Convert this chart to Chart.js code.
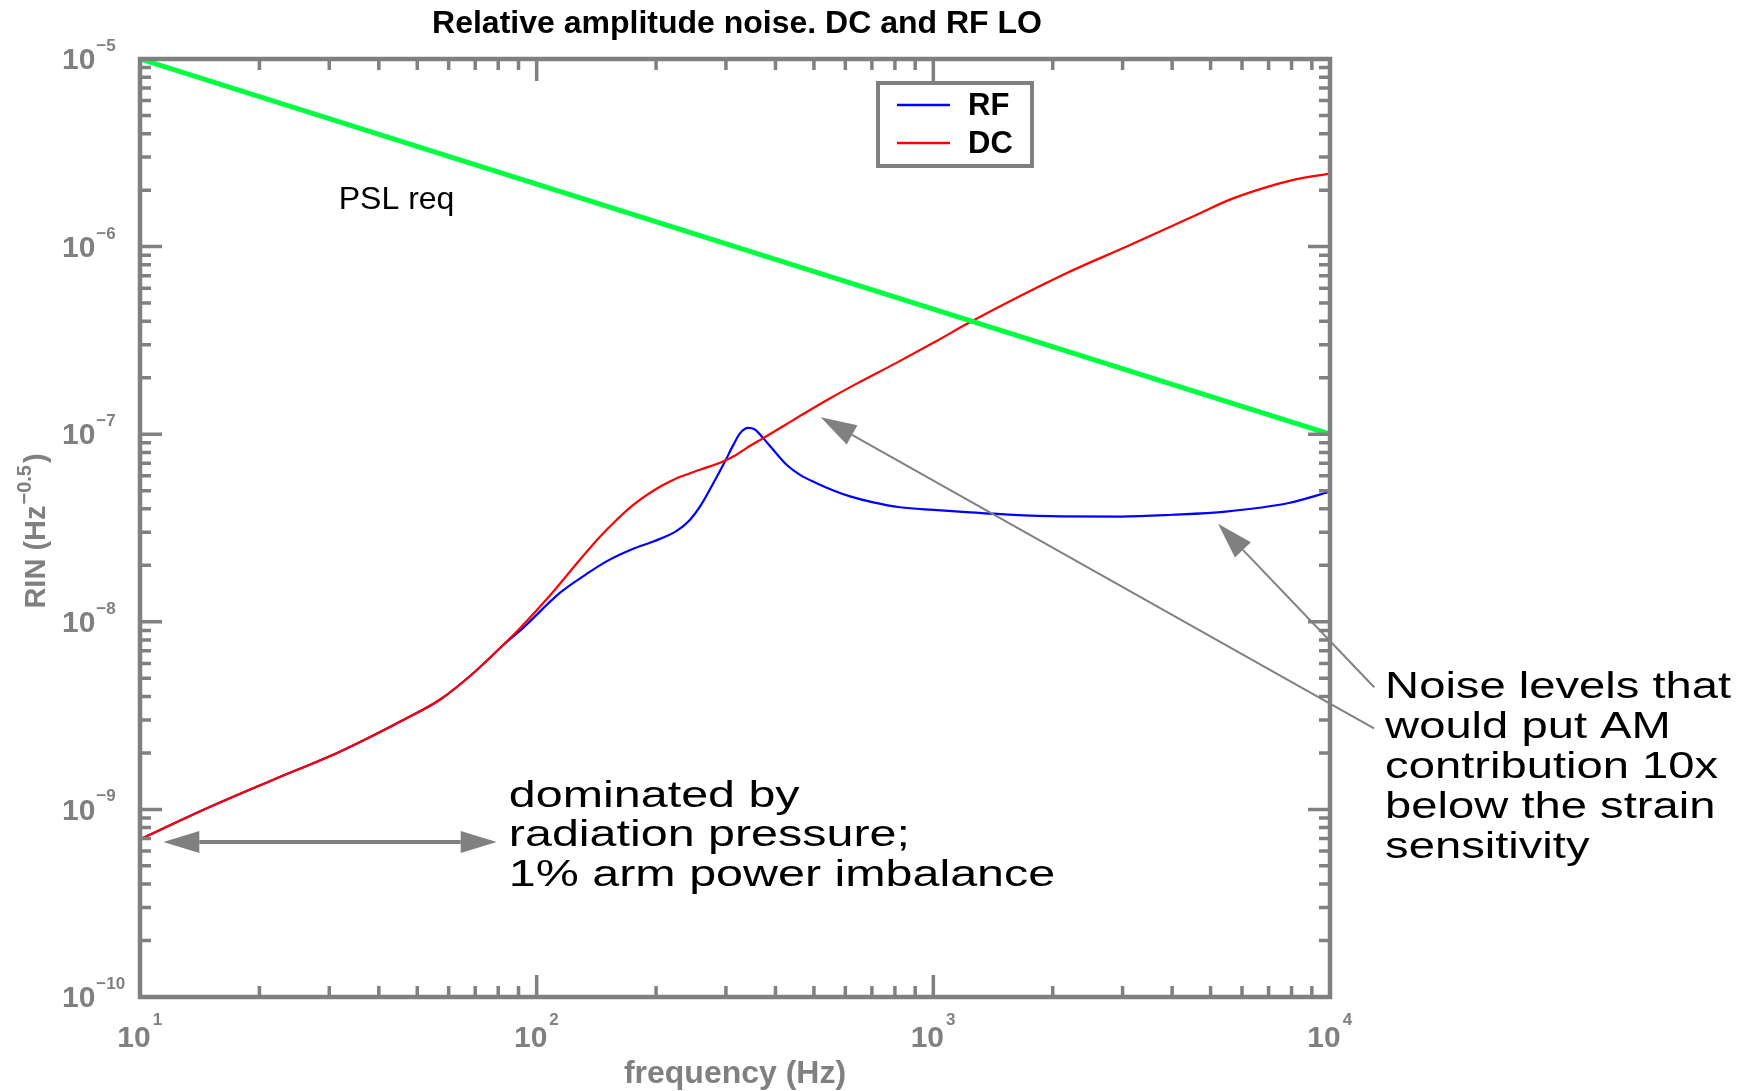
<!DOCTYPE html>
<html>
<head>
<meta charset="utf-8">
<script src="https://cdn.jsdelivr.net/npm/chart.js@4.4.1/dist/chart.umd.min.js"></script>
<style>
  html, body { margin: 0; padding: 0; background: #ffffff; }
  canvas { display: block; }
</style>
</head>
<body>
<canvas id="c" width="1758" height="1091"></canvas>
<script>
// ---------------- data ----------------
const titleText = 'Relative amplitude noise. DC and RF LO';
const xTitleText = 'frequency (Hz)';
const yTitleMain = 'RIN (Hz';
const yTitleSup = '\u22120.5';
const yTitleEnd = ')';

const xTickValues = [10, 100, 1000, 10000];
const xTickLabels = ['10', '10', '10', '10'];
const xTickExponents = ['1', '2', '3', '4'];
const yTickValues = [1e-10, 1e-9, 1e-8, 1e-7, 1e-6, 1e-5];
const yTickLabels = ['10', '10', '10', '10', '10', '10'];
const yTickExponents = ['\u221210', '\u22129', '\u22128', '\u22127', '\u22126', '\u22125'];
const minorMultipliers = [2, 3, 4, 5, 6, 7, 8, 9];

const pslFreq = [10, 100, 1000, 10000];
const pslRin  = [1e-5, 2.15e-6, 4.64e-7, 1e-7];

const dcFreq = [10, 14.7, 21.7, 31.9, 47, 57, 69.2, 84, 90, 108, 128.5, 144.4, 159, 175.2, 205, 225.4, 258, 295, 313.2, 338, 372.4, 420, 461, 548, 641, 807, 1000, 1236, 2125, 3133, 4613, 5595, 6795, 8237, 10000];
const dcRin  = [6.92e-10, 1.01e-9, 1.44e-9, 2.03e-9, 3.06e-9, 3.84e-9, 5.32e-9, 7.84e-9, 9.06e-9, 1.38e-8, 2.14e-8, 2.84e-8, 3.49e-8, 4.20e-8, 5.26e-8, 5.83e-8, 6.46e-8, 7.15e-8, 7.60e-8, 8.43e-8, 9.53e-8, 1.11e-7, 1.25e-7, 1.55e-7, 1.86e-7, 2.40e-7, 3.07e-7, 3.95e-7, 7.08e-7, 1.02e-6, 1.48e-6, 1.78e-6, 2.05e-6, 2.29e-6, 2.45e-6];

const rfFreq = [10, 14.7, 21.7, 31.9, 47, 57, 69.2, 84, 92, 114.6, 133.7, 150, 175.2, 196.9, 225.4, 243.3, 258, 278.8, 298.3, 313.2, 325.5, 341.5, 354.8, 372.4, 394.8, 426.6, 461.3, 508.1, 559.8, 616.6, 705.6, 823.6, 1000, 1548, 2100, 2979, 4000, 5460, 7870, 10000];
const rfRin  = [6.92e-10, 1.01e-9, 1.44e-9, 2.03e-9, 3.06e-9, 3.84e-9, 5.32e-9, 7.8e-9, 9.2e-9, 1.43e-8, 1.80e-8, 2.10e-8, 2.45e-8, 2.68e-8, 3.05e-8, 3.49e-8, 4.11e-8, 5.48e-8, 7.15e-8, 8.77e-8, 1.01e-7, 1.08e-7, 1.06e-7, 9.53e-8, 8.26e-8, 6.87e-8, 6.07e-8, 5.48e-8, 5.01e-8, 4.66e-8, 4.33e-8, 4.08e-8, 3.95e-8, 3.73e-8, 3.65e-8, 3.64e-8, 3.72e-8, 3.87e-8, 4.30e-8, 4.94e-8];

const legendEntries = ['RF', 'DC'];
const pslText = 'PSL req';
const leftNote = ['dominated by', 'radiation pressure;', '1% arm power imbalance'];
const rightNote = ['Noise levels that', 'would put AM', 'contribution 10x', 'below the strain', 'sensitivity'];

// ---------------- styling ----------------
const GRAY = '#808080';
const FONT = "'Liberation Sans', Arial, Helvetica, sans-serif";
Chart.defaults.font.family = FONT;
const TICK_FONT = 'bold 30px ' + FONT;
const EXP_FONT = 'bold 17px ' + FONT;

function pts(xs, ys) { return xs.map((x, i) => ({ x: x, y: ys[i] })); }

function arrowHead(ctx, x1, y1, x2, y2, len, hw) {
  const a = Math.atan2(y2 - y1, x2 - x1);
  const bx = x2 - len * Math.cos(a), by = y2 - len * Math.sin(a);
  ctx.beginPath();
  ctx.moveTo(x2, y2);
  ctx.lineTo(bx + hw * Math.sin(a), by - hw * Math.cos(a));
  ctx.lineTo(bx - hw * Math.sin(a), by + hw * Math.cos(a));
  ctx.closePath();
  ctx.fill();
  return [bx, by];
}
function stretched(ctx, txt, x, y, sx) {
  ctx.save(); ctx.translate(x, y); ctx.scale(sx, 1); ctx.fillText(txt, 0, 0); ctx.restore();
}

const decorPlugin = {
  id: 'decor',
  afterDatasetsDraw(chart) {
    const ctx = chart.ctx, a = chart.chartArea;
    const xs = chart.scales.x, ys = chart.scales.y;
    ctx.save();
    ctx.strokeStyle = GRAY; ctx.lineWidth = 3.5; ctx.lineCap = 'butt';
    for (let e = 1; e <= 4; e++) {
      [1].concat(minorMultipliers).forEach(m => {
        const v = m * Math.pow(10, e);
        if (v > xs.max * 1.0001) return;
        const px = xs.getPixelForValue(v);
        const len = m === 1 ? 22 : 11;
        ctx.beginPath();
        ctx.moveTo(px, a.bottom); ctx.lineTo(px, a.bottom - len);
        ctx.moveTo(px, a.top); ctx.lineTo(px, a.top + len);
        ctx.stroke();
      });
    }
    for (let e = -10; e <= -5; e++) {
      [1].concat(minorMultipliers).forEach(m => {
        const v = m * Math.pow(10, e);
        if (v > ys.max * 1.0001) return;
        const py = ys.getPixelForValue(v);
        const len = m === 1 ? 22 : 11;
        ctx.beginPath();
        ctx.moveTo(a.left, py); ctx.lineTo(a.left + len, py);
        ctx.moveTo(a.right, py); ctx.lineTo(a.right - len, py);
        ctx.stroke();
      });
    }
    ctx.lineWidth = 4.5;
    ctx.strokeRect(a.left, a.top, a.right - a.left, a.bottom - a.top);
    ctx.restore();
  },
  afterDraw(chart) {
    const ctx = chart.ctx, a = chart.chartArea;
    const xs = chart.scales.x, ys = chart.scales.y;
    const X = v => xs.getPixelForValue(v), Y = v => ys.getPixelForValue(v);
    ctx.save();

    // tick label exponents
    ctx.fillStyle = GRAY;
    ctx.textAlign = 'left'; ctx.textBaseline = 'alphabetic';
    ctx.font = TICK_FONT;
    const baseW = ctx.measureText('10').width;
    ctx.font = EXP_FONT;
    xTickValues.forEach((v, i) => {
      ctx.fillText(xTickExponents[i], X(v) - 6 + baseW / 2 + 2, a.bottom + 28);
    });
    yTickValues.forEach((v, i) => {
      ctx.fillText(yTickExponents[i], 62 + baseW + 1, Y(v) - 8);
    });

    // title
    ctx.fillStyle = '#000000';
    ctx.font = 'bold 32px ' + FONT;
    ctx.textAlign = 'center'; ctx.textBaseline = 'alphabetic';
    ctx.fillText(titleText, 737, 33);

    // x axis title
    ctx.fillStyle = GRAY;
    ctx.font = 'bold 32px ' + FONT;
    ctx.fillText(xTitleText, (a.left + a.right) / 2, 1083);

    // y axis title (rotated, with superscript)
    ctx.save();
    ctx.translate(45, (a.top + a.bottom) / 2 + 3);
    ctx.rotate(-Math.PI / 2);
    ctx.textAlign = 'left';
    const mainF = 'bold 29px ' + FONT, supF = 'bold 20px ' + FONT;
    ctx.font = mainF; const w1 = ctx.measureText(yTitleMain).width; const w3 = ctx.measureText(yTitleEnd).width;
    ctx.font = supF; const w2 = ctx.measureText(yTitleSup).width;
    let sx = -(w1 + w2 + w3 + 3) / 2;
    ctx.font = mainF; ctx.fillText(yTitleMain, sx, 0); sx += w1;
    ctx.font = supF; ctx.fillText(yTitleSup, sx + 1, -14); sx += w2 + 3;
    ctx.font = mainF; ctx.fillText(yTitleEnd, sx, 0);
    ctx.restore();

    // legend box
    const lx = 878, ly = 83, lw = 154, lh = 83;
    ctx.fillStyle = '#ffffff';
    ctx.fillRect(lx, ly, lw, lh);
    ctx.strokeStyle = GRAY; ctx.lineWidth = 4;
    ctx.strokeRect(lx, ly, lw, lh);
    ctx.font = 'bold 31px ' + FONT;
    ctx.textAlign = 'left'; ctx.textBaseline = 'middle';
    legendEntries.forEach((lab, i) => {
      const ds = chart.data.datasets.find(d => d.label === lab);
      const yy = ly + 22 + i * 38;
      ctx.strokeStyle = ds.borderColor; ctx.lineWidth = 2.5;
      ctx.beginPath(); ctx.moveTo(lx + 19, yy); ctx.lineTo(lx + 72, yy); ctx.stroke();
      ctx.fillStyle = '#000000';
      ctx.fillText(lab, lx + 90, yy + 1);
    });

    // PSL req label
    ctx.textBaseline = 'alphabetic';
    ctx.fillStyle = '#000000';
    ctx.font = '32px ' + FONT;
    ctx.fillText(pslText, X(31.7), Y(1.59e-6));

    // notes
    ctx.font = '36px ' + FONT;
    leftNote.forEach((t, i) => stretched(ctx, t, X(85.1), Y(1.03e-9) + i * 39.5, 1.345));
    rightNote.forEach((t, i) => stretched(ctx, t, X(13770), Y(3.91e-9) + i * 40, 1.31));

    // arrows
    ctx.fillStyle = GRAY; ctx.strokeStyle = GRAY;
    const y0 = Y(6.7e-10), xa = X(11.45), xb = X(79.3);
    ctx.lineWidth = 4;
    const hL = arrowHead(ctx, xb, y0, xa, y0, 36, 11);
    const hR = arrowHead(ctx, xa, y0, xb, y0, 36, 11);
    ctx.beginPath(); ctx.moveTo(hL[0], y0); ctx.lineTo(hR[0], y0); ctx.stroke();
    ctx.lineWidth = 2;
    const callouts = [
      [12910, 2.70e-9, 520, 1.233e-7],
      [12925, 4.48e-9, 5221, 3.33e-8]
    ];
    callouts.forEach(c => {
      const x1 = X(c[0]), y1 = Y(c[1]), x2 = X(c[2]), y2 = Y(c[3]);
      const b = arrowHead(ctx, x1, y1, x2, y2, 36, 11);
      ctx.beginPath(); ctx.moveTo(x1, y1); ctx.lineTo(b[0], b[1]); ctx.stroke();
    });
    ctx.restore();
  }
};

new Chart(document.getElementById('c'), {
  type: 'line',
  data: {
    datasets: [
      { label: 'PSL req', data: pts(pslFreq, pslRin), borderColor: '#00ff40', borderWidth: 5, pointRadius: 0, fill: false, order: 0, tension: 0 },
      { label: 'DC', data: pts(dcFreq, dcRin), borderColor: '#ff0000', borderWidth: 2.2, pointRadius: 0, fill: false, order: 1, cubicInterpolationMode: 'monotone' },
      { label: 'RF', data: pts(rfFreq, rfRin), borderColor: '#0000ff', borderWidth: 2.2, pointRadius: 0, fill: false, order: 2, cubicInterpolationMode: 'monotone' }
    ]
  },
  options: {
    responsive: false,
    animation: false,
    devicePixelRatio: 1,
    layout: { padding: { left: 62, right: 428, top: 59, bottom: 0 } },
    plugins: { legend: { display: false }, title: { display: false }, tooltip: { enabled: false } },
    scales: {
      x: {
        type: 'logarithmic', position: 'bottom', min: 10, max: 10000,
        grid: { display: false, drawTicks: false },
        border: { display: false },
        afterBuildTicks: s => { s.ticks = xTickValues.map(v => ({ value: v })); },
        afterFit: s => { s.height = 94; },
        ticks: {
          autoSkip: false, maxRotation: 0, minRotation: 0, padding: 24, labelOffset: -6,
          color: GRAY, font: { size: 30, weight: 'bold' },
          callback: (v, i) => xTickLabels[i]
        }
      },
      y: {
        type: 'logarithmic', position: 'left', min: 1e-10, max: 1e-5,
        grid: { display: false, drawTicks: false },
        border: { display: false },
        afterBuildTicks: s => { s.ticks = yTickValues.map(v => ({ value: v })); },
        afterFit: s => { s.width = 78; },
        ticks: {
          autoSkip: false, crossAlign: 'far', padding: 0, labelOffset: 2,
          color: GRAY, font: { size: 30, weight: 'bold' },
          callback: (v, i) => yTickLabels[i]
        }
      }
    }
  },
  plugins: [decorPlugin]
});
</script>
</body>
</html>
